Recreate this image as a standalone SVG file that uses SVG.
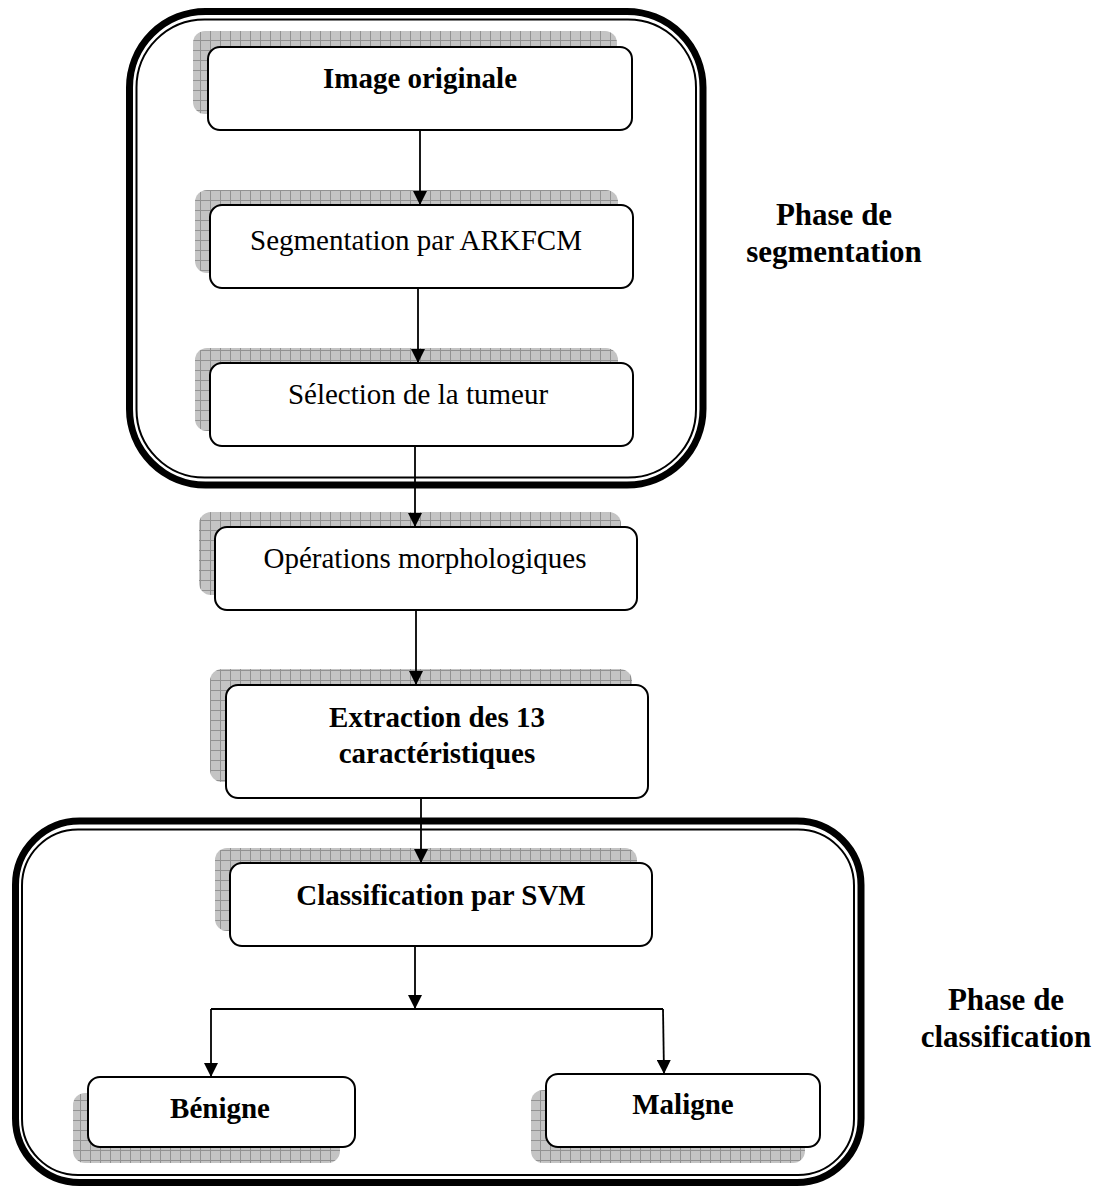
<svg xmlns="http://www.w3.org/2000/svg" width="1103" height="1189" viewBox="0 0 1103 1189">
  <defs>
    <style>
      .box { fill: #ffffff; stroke: #000000; stroke-width: 2; }
      .shadow { fill: url(#grid); stroke: none; }
      .frame-thick { fill: none; stroke: #000000; stroke-width: 7; }
      .frame-thin { fill: none; stroke: #000000; stroke-width: 2; }
      .conn { fill: none; stroke: #000000; stroke-width: 1.8; }
      .t { font-family: "Liberation Serif", "Times New Roman", serif; font-size: 29px; fill: #000000; text-anchor: middle; }
      .b { font-weight: bold; }
      .lbl { font-family: "Liberation Serif", "Times New Roman", serif; font-size: 31px; font-weight: bold; fill: #000000; text-anchor: middle; }
    </style>
    <pattern id="grid" width="10" height="10" patternUnits="userSpaceOnUse">
      <rect width="10" height="10" fill="#c4c4c4"/>
      <path d="M0 0.5H10M0.5 0V10" stroke="#929292" stroke-width="1"/>
    </pattern>
    <marker id="arrow" markerUnits="userSpaceOnUse" markerWidth="14" markerHeight="14" viewBox="0 0 14 14" refX="14" refY="7" orient="auto">
      <path d="M0,0 L14,7 L0,14 z" fill="#000000"/>
    </marker>
  </defs>

  <rect width="1103" height="1189" fill="#ffffff"/>

  <g id="frame-segmentation">
    <rect class="frame-thick" x="129.5" y="11.5" width="573.5" height="473.5" rx="76" ry="76"/>
    <rect class="frame-thin" x="136.5" y="19.5" width="559.5" height="458" rx="68" ry="68"/>
  </g>

  <g id="frame-classification">
    <rect class="frame-thick" x="15.5" y="821" width="845.5" height="361.5" rx="64" ry="64"/>
    <rect class="frame-thin" x="22" y="829.5" width="832" height="345.5" rx="56" ry="56"/>
  </g>

  <g id="node-image">
    <rect class="shadow" x="193" y="31" width="424" height="83" rx="12"/>
    <rect class="box" x="208" y="47" width="424" height="83" rx="12"/>
    <text class="t b" x="420" y="88">Image originale</text>
  </g>

  <g id="node-segmentation">
    <rect class="shadow" x="195" y="190" width="423" height="83" rx="12"/>
    <rect class="box" x="210" y="205" width="423" height="83" rx="12"/>
    <text class="t" x="416" y="250">Segmentation par ARKFCM</text>
  </g>

  <g id="node-selection">
    <rect class="shadow" x="195" y="348" width="423" height="83" rx="12"/>
    <rect class="box" x="210" y="363" width="423" height="83" rx="12"/>
    <text class="t" x="418" y="404">Sélection de la tumeur</text>
  </g>

  <g id="node-morpho">
    <rect class="shadow" x="199" y="512" width="422" height="83" rx="12"/>
    <rect class="box" x="215" y="527" width="422" height="83" rx="12"/>
    <text class="t" x="425" y="568">Opérations morphologiques</text>
  </g>

  <g id="node-extraction">
    <rect class="shadow" x="210" y="669" width="422" height="113" rx="12"/>
    <rect class="box" x="226" y="685" width="422" height="113" rx="12"/>
    <text class="t b" x="437" y="727">Extraction des 13</text>
    <text class="t b" x="437" y="763">caractéristiques</text>
  </g>

  <g id="node-svm">
    <rect class="shadow" x="215" y="848" width="422" height="83" rx="12"/>
    <rect class="box" x="230" y="863" width="422" height="83" rx="12"/>
    <text class="t b" x="441" y="905">Classification par SVM</text>
  </g>

  <g id="node-benigne">
    <rect class="shadow" x="73" y="1093" width="267" height="70" rx="12"/>
    <rect class="box" x="88" y="1077" width="267" height="70" rx="12"/>
    <text class="t b" x="220" y="1118">Bénigne</text>
  </g>

  <g id="node-maligne">
    <rect class="shadow" x="531" y="1090" width="274" height="73" rx="12"/>
    <rect class="box" x="546" y="1074" width="274" height="73" rx="12"/>
    <text class="t b" x="683" y="1114">Maligne</text>
  </g>

  <g id="connectors">
    <line class="conn" x1="420" y1="130" x2="420" y2="205" marker-end="url(#arrow)"/>
    <line class="conn" x1="418" y1="288" x2="418" y2="363" marker-end="url(#arrow)"/>
    <line class="conn" x1="415" y1="446" x2="415" y2="527" marker-end="url(#arrow)"/>
    <line class="conn" x1="416" y1="610" x2="416" y2="685" marker-end="url(#arrow)"/>
    <line class="conn" x1="421" y1="798" x2="421" y2="863" marker-end="url(#arrow)"/>
    <line class="conn" x1="415" y1="946" x2="415" y2="1009" marker-end="url(#arrow)"/>
    <polyline class="conn" points="211,1009 663,1009"/>
    <line class="conn" x1="211" y1="1009" x2="211" y2="1077" marker-end="url(#arrow)"/>
    <line class="conn" x1="663" y1="1009" x2="664" y2="1074" marker-end="url(#arrow)"/>
  </g>

  <g id="labels">
    <text class="lbl" x="834" y="225">Phase de</text>
    <text class="lbl" x="834" y="262">segmentation</text>
    <text class="lbl" x="1006" y="1010">Phase de</text>
    <text class="lbl" x="1006" y="1047">classification</text>
  </g>
</svg>
